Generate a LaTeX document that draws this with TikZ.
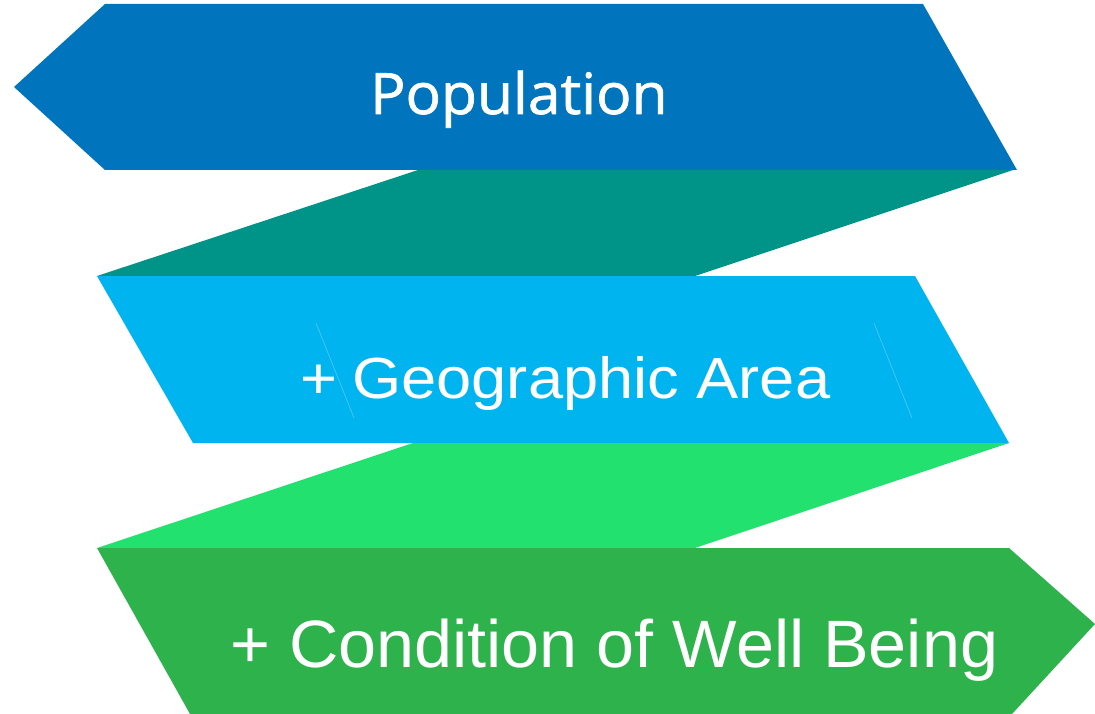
\documentclass[tikz,border=0pt]{standalone}
\usepackage{fontspec}
\setmainfont{Liberation Sans}
\newfontfamily\popfont[FakeBold=1.2]{Open Sans}
\definecolor{topblue}{HTML}{0075BE}
\definecolor{tealband}{HTML}{009488}
\definecolor{lightblue}{HTML}{00B4F0}
\definecolor{lightgreen}{HTML}{23E16E}
\definecolor{darkgreen}{HTML}{2EB34C}
\definecolor{thinline}{HTML}{55C8F2}
\begin{document}
\begin{tikzpicture}[x=1pt,y=-1pt,
  lbl/.style={text=white, inner sep=0pt, anchor=base west},
  faint/.style={draw=thinline, line width=0.6pt}]
\useasboundingbox (0,0) rectangle (1095,714);
% shapes
\fill[topblue] (14,87) -- (105,4) -- (923,4) -- (1017,170) -- (105,170) -- cycle;
\fill[tealband] (418,170) -- (1013,170) -- (695,276) -- (97,276) -- cycle;
\fill[lightblue] (97,276) -- (915,276) -- (1009,443) -- (193,443) -- cycle;
\fill[lightgreen] (413,443) -- (1009,443) -- (695,548) -- (97,548) -- cycle;
\fill[darkgreen] (97,548) -- (1009,548) -- (1095,624) -- (1012,714) -- (190,714) -- cycle;
% faint lines
\coordinate (fa1) at (316,323); \coordinate (fa2) at (354,418);
\coordinate (fb1) at (874,323); \coordinate (fb2) at (912,418);
\draw[faint] (fa1) -- (fa2);
\draw[faint] (fb1) -- (fb2);
% labels
\node[lbl] (pop) at (370,114) {\scalebox{1.03}[1]{\popfont\fontsize{57}{60}\selectfont Population}};
\node[lbl] (geo) at (300,398) {\scalebox{1.09}[1]{\fontsize{58}{60}\selectfont +\hspace{14pt}Geographic Area}};
\node[lbl] (cond) at (230,667) {\scalebox{1.02}[1]{\fontsize{67}{70}\selectfont + Condition of Well Being}};
\end{tikzpicture}
\end{document}
